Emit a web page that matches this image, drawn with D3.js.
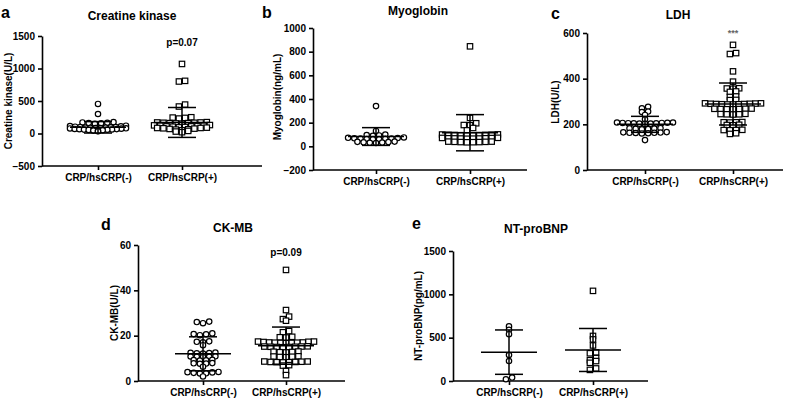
<!DOCTYPE html>
<html><head><meta charset="utf-8">
<script src="https://cdn.jsdelivr.net/npm/d3@7"></script>
<style>
body{margin:0;background:#fff}
text{font-family:"Liberation Sans",Arial,sans-serif;font-weight:bold;fill:#000}
</style></head>
<body><svg id="chart" width="793" height="401"></svg>
<script>
var groups = ["CRP/hsCRP(-)", "CRP/hsCRP(+)"];

// a - creatine kinase (U/L)
var ckNeg = [455, 300, 175, 170, 165, 160, 158, 150, 120, 115, 110, 105, 100, 98, 95, 92, 90, 88, 85, 82, 80, 78, 75, 70, 68, 65, 62, 60, 58, 55, 50, 45, 40, 35];
var ckPos = [1070, 800, 810, 445, 415, 250, 245, 240, 230, 175, 170, 170, 165, 165, 160, 160, 155, 150, 130, 125, 120, 120, 115, 110, 110, 105, 100, 95, 90, 85, 85, 80, 75, 70, 65, 60, 50, 40, 30, 20];
var ckMean = [95, 170], ckSd = [88, 230];
var ckTicks = [-500, 0, 500, 1000, 1500];

// b - myoglobin (ng/mL)
var myoNeg = [340, 130, 100, 95, 92, 88, 75, 72, 70, 68, 66, 65, 63, 62, 60, 58, 40, 38, 36, 34, 32, 30, 28];
var myoPos = [845, 240, 195, 180, 178, 155, 135, 101, 100, 99, 98, 97, 96, 95, 94, 93, 92, 72, 71, 70, 68, 68, 67, 66, 66, 65, 64, 40, 40, 38, 38, 36, 36, 35, 34];
var myoMean = [83, 115], myoSd = [75, 153];
var myoTicks = [-200, 0, 200, 400, 600, 800, 1000];

// c - LDH (U/L)
var ldhNeg = [277, 270, 256, 254, 241, 222, 208, 208, 207, 206, 206, 205, 204, 204, 203, 203, 202, 183, 182, 181, 180, 179, 178, 166, 165, 164, 163, 163, 162, 161, 160, 131];
var ldhPos = [548, 512, 508, 432, 387, 358, 357, 356, 344, 342, 322, 320, 307, 306, 292, 292, 291, 290, 290, 289, 289, 288, 288, 287, 287, 269, 268, 268, 267, 267, 266, 266, 246, 245, 244, 244, 243, 210, 209, 209, 208, 198, 197, 196, 176, 175, 175, 174, 161, 158];
var ldhMean = [200, 289], ldhSd = [35, 92];
var ldhTicks = [0, 200, 400, 600];

// d - CK-MB (U/L)
var ckmbNeg = [26.2, 26, 25.5, 21, 20.7, 20.6, 20.2, 17.5, 17.3, 17.1, 15.8, 12.5, 12.4, 12.3, 12.2, 12.1, 10.9, 10.8, 10.7, 10.6, 10.5, 9.3, 9.2, 9.1, 9.0, 7.9, 7.8, 7.7, 7.6, 6.3, 4.0, 3.9, 3.8, 3.6, 3.4, 3.3, 2.0];
var ckmbPos = [49, 31.3, 28.4, 27.3, 26.6, 22, 21.5, 19.5, 19.3, 19.2, 17.4, 17.4, 17.3, 17.2, 17.0, 17.0, 16.9, 16.9, 16.8, 16.8, 16.7, 15.3, 15.2, 15.2, 15.1, 15.1, 15.0, 15.0, 14.9, 13.0, 12.9, 12.8, 12.7, 12.6, 10.9, 10.8, 10.7, 10.6, 10.5, 8.6, 8.6, 8.5, 8.4, 8.4, 8.3, 8.3, 8.2, 7.0, 6.8, 4.4, 2.6];
var ckmbMean = [12, 15.6], ckmbSd = [7.5, 8.2];
var ckmbTicks = [0, 20, 40, 60];

// e - NT-proBNP (pg/mL)
var bnpNeg = [630, 590, 540, 300, 230, 40, 20];
var bnpPos = [1040, 520, 480, 410, 330, 320, 265, 240, 230, 210, 145, 128];
var bnpMean = [333, 358], bnpSd = [256, 248];
var bnpTicks = [0, 500, 1000, 1500];

var panels = [
  {letter:"a", title:"Creatine kinase", ylab:"Creatine kinase(U/L)", data:[ckNeg, ckPos], mean:ckMean, sd:ckSd, ticks:ckTicks, note:"p=0.07",
   x0:42, x1:262, bot:166, top:36, c:[98, 182], tx:132, ty:20, lx:1, ly:18, yx:12, yy:101, ny:46, noteSmall:false},
  {letter:"b", title:"Myoglobin", ylab:"Myoglobin(ng/mL)", data:[myoNeg, myoPos], mean:myoMean, sd:myoSd, ticks:myoTicks, note:null,
   x0:313, x1:527, bot:170, top:28, c:[376, 470], tx:418, ty:15, lx:262, ly:18, yx:281, yy:97},
  {letter:"c", title:"LDH", ylab:"LDH(U/L)", data:[ldhNeg, ldhPos], mean:ldhMean, sd:ldhSd, ticks:ldhTicks, note:"***",
   x0:587, x1:783, bot:170, top:33, c:[645, 733], tx:678, ty:19, lx:551, ly:19, yx:559, yy:102, ny:36, noteSmall:true},
  {letter:"d", title:"CK-MB", ylab:"CK-MB(U/L)", data:[ckmbNeg, ckmbPos], mean:ckmbMean, sd:ckmbSd, ticks:ckmbTicks, note:"p=0.09",
   x0:138, x1:345, bot:381, top:245, c:[203, 286], tx:233, ty:232, lx:101, ly:230, yx:118, yy:313, ny:256, noteSmall:false},
  {letter:"e", title:"NT-proBNP", ylab:"NT-proBNP(pg/mL)", data:[bnpNeg, bnpPos], mean:bnpMean, sd:bnpSd, ticks:bnpTicks, note:null,
   x0:453, x1:648, bot:381, top:251, c:[509, 593], tx:536, ty:233, lx:412, ly:229, yx:422, yy:316}
];

var svg = d3.select("#chart");

// group near-equal values into rows, spread them sideways, lowest value in the middle
swarm = function(vals, y, cx) {
  var pts = vals.map(function(v) { return {v: v, y: y(v)}; })
    .sort(function(a, b) { return a.y - b.y; });
  var rows = [], cur = null;
  pts.forEach(function(p) {
    if (!cur || p.y - cur[0].y > 2.6) { cur = [p]; rows.push(cur); }
    else cur.push(p);
  });
  rows.forEach(function(row) {
    var n = row.length;
    var step = n > 1 ? Math.min(6.2, 56 / (n - 1)) : 0;
    var slots = d3.range(n).map(function(i) { return (i - (n - 1) / 2) * step; });
    slots.sort(function(a, b) { return Math.abs(a) - Math.abs(b) || a - b; });
    row.sort(function(a, b) { return a.v - b.v; });
    row.forEach(function(p, i) { p.x = cx + slots[i]; });
  });
  return pts;
}

panels.forEach(function(p) {
  var g = svg.append("g");
  var y = d3.scaleLinear().domain(d3.extent(p.ticks)).range([p.bot, p.top]);
  var x = d3.scalePoint().domain(groups).range(p.c);

  // axes
  var ya = g.append("g").attr("transform", "translate(" + p.x0 + ",0)")
    .call(d3.axisLeft(y).tickValues(p.ticks).tickFormat(d3.format("d")).tickSize(4).tickSizeOuter(0).tickPadding(3));
  var xa = g.append("g").attr("transform", "translate(0," + p.bot + ")")
    .call(d3.axisBottom(x).tickSize(4).tickSizeOuter(0).tickPadding(4));
  xa.select(".domain").remove();
  g.append("line").attr("x1", p.x0).attr("x2", p.x1).attr("y1", p.bot).attr("y2", p.bot)
    .attr("stroke", "#000").attr("stroke-width", 1.6);
  [ya, xa].forEach(function(a) {
    a.attr("font-family", null).attr("font-size", 10);
    a.selectAll("path,line").attr("stroke", "#000").attr("stroke-width", 1.6);
    a.selectAll("text").attr("fill", "#000");
  });

  // points
  p.data.forEach(function(vals, gi) {
    var pts = swarm(vals, y, x(groups[gi]));
    if (gi == 0) {
      g.selectAll(null).data(pts).enter().append("circle")
        .attr("cx", function(d) { return d.x; }).attr("cy", function(d) { return d.y; })
        .attr("r", 2.7).attr("fill", "#fff").attr("stroke", "#000").attr("stroke-width", 1.2);
    } else {
      g.selectAll(null).data(pts).enter().append("rect")
        .attr("x", function(d) { return d.x - 2.7; }).attr("y", function(d) { return d.y - 2.7; })
        .attr("width", 5.4).attr("height", 5.4)
        .attr("fill", "#fff").attr("stroke", "#000").attr("stroke-width", 1.2);
    }

    // mean +- SD
    var cx = x(groups[gi]), m = p.mean[gi], s = p.sd[gi];
    var bars = g.append("g").attr("stroke", "#000").attr("stroke-width", 1.5);
    bars.append("line").attr("x1", cx).attr("x2", cx).attr("y1", y(m - s)).attr("y2", y(m + s));
    bars.append("line").attr("x1", cx - 28).attr("x2", cx + 28).attr("y1", y(m)).attr("y2", y(m));
    [m - s, m + s].forEach(function(v) {
      bars.append("line").attr("x1", cx - 14).attr("x2", cx + 14).attr("y1", y(v)).attr("y2", y(v));
    });
  });

  // texts
  g.append("text").attr("x", p.lx).attr("y", p.ly).attr("font-size", 16).text(p.letter);
  g.append("text").attr("x", p.tx).attr("y", p.ty).attr("text-anchor", "middle").attr("font-size", 12).text(p.title);
  g.append("text").attr("transform", "translate(" + p.yx + "," + p.yy + ") rotate(-90)")
    .attr("text-anchor", "middle").attr("font-size", 10).text(p.ylab);
  if (p.note) {
    var t = g.append("text").attr("x", x(groups[1])).attr("y", p.ny).attr("text-anchor", "middle").text(p.note);
    if (p.noteSmall) t.attr("font-size", 9).attr("font-weight", "normal").style("fill", "#666");
    else t.attr("font-size", 10);
  }
});
</script>
</body></html>
